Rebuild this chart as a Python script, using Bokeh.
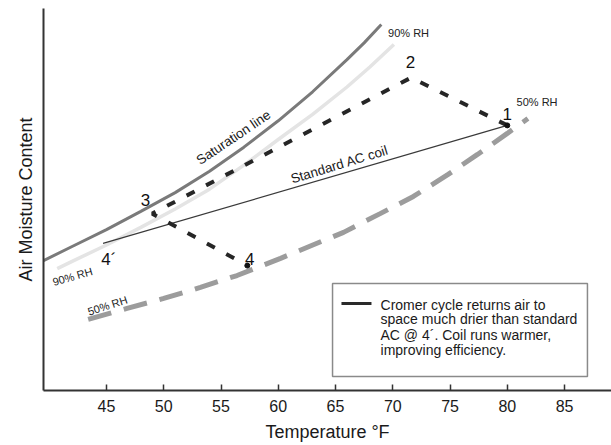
import math
from bokeh.plotting import figure
from bokeh.models import FixedTicker
from bokeh.core.properties import value
from bokeh.embed import file_html
from bokeh.resources import INLINE

FONT = "Liberation Sans"

# ---- data: temperature (°F) vs. air moisture content (relative units, 0-100) ----
sat_temp = [39.5, 42, 45, 48, 51, 54, 57, 60, 63, 66, 67.5, 69]
sat_moist = [34.0, 37.7, 42.1, 46.9, 51.8, 57.4, 63.7, 70.6, 78.2, 86.6, 91.0, 95.8]

rh90_temp = [40.7, 42, 45, 48, 51, 54, 57, 60, 63, 66, 68, 70.1]
rh90_moist = [31.9, 33.8, 38.1, 42.7, 47.5, 52.7, 59.0, 65.7, 72.3, 79.45, 84.7, 90.6]

rh50_temp = [43.4, 46.8, 50.0, 53.2, 56.4, 60.2, 65.7, 68.9, 71.8, 74.8, 77.4, 80.0, 81.8]
rh50_moist = [18.6, 21.5, 24.1, 27.0, 30.1, 34.6, 41.4, 46.3, 50.8, 56.5, 61.8, 67.3, 71.2]

cromer_points = ["1", "2", "3", "4"]
cromer_temp = [80.0, 71.6, 49.0, 57.3]
cromer_moist = [69.4, 81.9, 46.3, 32.7]

ac_points = ["1", "4´"]
ac_temp = [80.0, 44.7]
ac_moist = [69.4, 38.5]

x_ticks = [45, 50, 55, 60, 65, 70, 75, 80, 85]

legend_lines = [
    "Cromer cycle returns air to",
    "space much drier than standard",
    "AC @ 4´. Coil runs warmer,",
    "improving efficiency.",
]

# ---- figure ----
p = figure(width=611, height=445, x_range=(39.5, 89.1), y_range=(0, 100),
           output_backend="svg", toolbar_location=None,
           min_border_left=43, min_border_right=0, min_border_top=8,
           min_border_bottom=55)
p.grid.visible = False
p.outline_line_color = None
p.background_fill_color = "white"
p.border_fill_color = "white"

xa = p.xaxis[0]
xa.ticker = FixedTicker(ticks=x_ticks)
xa.major_tick_in = 6
xa.major_tick_out = 0
xa.minor_tick_in = 0
xa.minor_tick_out = 0
xa.axis_line_width = 2
xa.axis_line_color = "#333333"
xa.major_tick_line_color = "#333333"
xa.major_tick_line_width = 1.5
xa.major_label_text_font = FONT
xa.major_label_text_font_size = "16px"
xa.major_label_text_color = "#1a1a1a"
xa.major_label_standoff = 9
xa.axis_label = "Temperature °F"
xa.axis_label_text_font = FONT
xa.axis_label_text_font_size = "18px"
xa.axis_label_text_font_style = "normal"
xa.axis_label_text_color = "#1a1a1a"
xa.axis_label_standoff = 7

ya = p.yaxis[0]
ya.ticker = FixedTicker(ticks=[])
ya.major_tick_in = 0
ya.major_tick_out = 0
ya.minor_tick_in = 0
ya.minor_tick_out = 0
ya.major_label_standoff = 0
ya.axis_line_width = 2
ya.axis_line_color = "#333333"
ya.axis_label = "Air Moisture Content"
ya.axis_label_text_font = FONT
ya.axis_label_text_font_size = "18px"
ya.axis_label_text_font_style = "normal"
ya.axis_label_text_color = "#1a1a1a"
ya.axis_label_standoff = 8

# ---- curves ----
p.line(rh90_temp, rh90_moist, line_color="#e4e4e4", line_width=3.5)
p.line(rh50_temp, rh50_moist, line_color="#9c9c9c", line_width=5, line_dash="24 13")
p.line(sat_temp, sat_moist, line_color="#7a7a7a", line_width=3)
p.line(ac_temp, ac_moist, line_color="#3a3a3a", line_width=1.2)
p.line(cromer_temp, cromer_moist, line_color="#262626", line_width=4, line_dash="9 13")
p.scatter([cromer_temp[0], cromer_temp[3]], [cromer_moist[0], cromer_moist[3]],
          size=5, color="#111111")

# ---- point labels ----
p.text(x=[80.0, 71.55, 48.4, 57.5, 45.2], y=[72.3, 85.9, 50.0, 34.3, 34.3],
       text=cromer_points + [ac_points[1]],
       text_font=value(FONT), text_font_size="17px", text_color="#111111",
       text_align="center", text_baseline="middle")

# RH labels
p.text(x=[42.03, 45.09], y=[29.84, 22.25], text=["90% RH", "50% RH"],
       angle=[math.radians(16), math.radians(18)],
       text_font=value(FONT), text_font_size="11px", text_color="#222222",
       text_align="center", text_baseline="middle")
p.text(x=[71.38], y=[93.46], text=["90% RH"],
       text_font=value(FONT), text_font_size="11px", text_color="#222222",
       text_align="center", text_baseline="middle")
p.text(x=[80.81], y=[75.5], text=["50% RH"],
       text_font=value(FONT), text_font_size="11px", text_color="#222222",
       text_align="left", text_baseline="middle")

# line labels
p.text(x=[56.09], y=[66.23], text=["Saturation line"], angle=math.radians(34),
       text_font=value(FONT), text_font_size="13.5px", text_color="#1a1a1a",
       text_align="center", text_baseline="middle")
p.text(x=[65.35], y=[59.16], text=["Standard AC coil"], angle=math.radians(17),
       text_font=value(FONT), text_font_size="13.5px", text_color="#1a1a1a",
       text_align="center", text_baseline="middle")

# ---- legend box ----
p.quad(left=[64.74], right=[87.0], top=[28.0], bottom=[3.66],
       fill_color="white", line_color="#8a8a8a", line_width=1.5)
p.line([65.52, 68.14], [22.8, 22.8], line_color="#2a2a2a", line_width=3)
p.text(x=[68.93] * 4, y=[22.5, 18.6, 14.4, 10.5], text=legend_lines,
       text_font=value(FONT), text_font_size="14px", text_color="#1a1a1a",
       text_align="left", text_baseline="middle")

open("out.html", "w").write(file_html(p, INLINE))
